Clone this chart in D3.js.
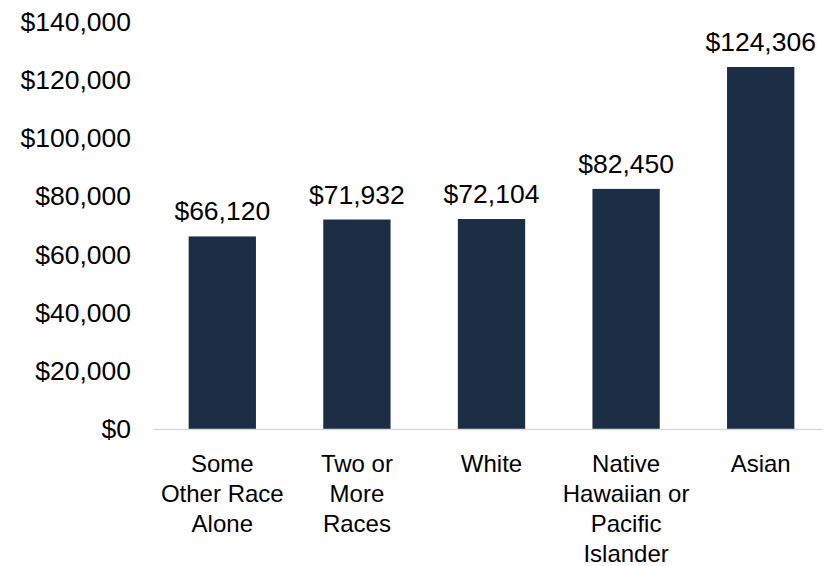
<!DOCTYPE html>
<html><head><meta charset="utf-8">
<script src="https://cdn.jsdelivr.net/npm/d3@7"></script>
<style>body{margin:0;background:#fff}svg{display:block}text{font-family:"Liberation Sans",Arial,sans-serif;fill:#000}</style>
</head><body>
<svg id="c" width="825" height="566"></svg>
<script>
const categories = ["Some Other Race Alone","Two or More Races","White","Native Hawaiian or Pacific Islander","Asian"];
const categoryLines = [["Some","Other Race","Alone"],["Two or","More","Races"],["White"],["Native","Hawaiian or","Pacific","Islander"],["Asian"]];
const values = [66120,71932,72104,82450,124306];
const yTicks = [0,20000,40000,60000,80000,100000,120000,140000];

const svg = d3.select("#c");
const x = d3.scaleBand().domain(categories).range([155,828]).paddingInner(0.5).paddingOuter(0.25);
const y = d3.scaleLinear().domain([0,140000]).range([429,21.3]);
const fmt = v => "$" + d3.format(",")(v);
const fs = 26.5;

// y labels
svg.append("g").selectAll("text").data(yTicks).join("text")
  .attr("x",131).attr("y",d=>y(d)).attr("dy","0.35em")
  .attr("text-anchor","end").style("font-size",fs+"px").text(fmt);

// bars
svg.append("g").selectAll("rect").data(values).join("rect")
  .attr("x",(d,i)=>x(categories[i])).attr("width",x.bandwidth())
  .attr("y",d=>y(d)).attr("height",d=>y(0)-y(d)).attr("fill","#1b2e46");

// axis line
svg.append("line").attr("x1",154).attr("x2",822).attr("y1",y(0)+0.5).attr("y2",y(0)+0.5)
  .attr("stroke","#d9d9d9").attr("stroke-width",1.5);

// value labels
svg.append("g").selectAll("text").data(values).join("text")
  .attr("x",(d,i)=>x(categories[i])+x.bandwidth()/2).attr("y",d=>y(d)-16)
  .attr("text-anchor","middle").style("font-size",fs+"px").text(fmt);

// category labels
const cl = svg.append("g").selectAll("text").data(categories).join("text")
  .attr("x",d=>x(d)+x.bandwidth()/2).attr("y",472)
  .attr("text-anchor","middle").style("font-size","24px");
cl.each(function(d,i){
  d3.select(this).selectAll("tspan").data(categoryLines[i]).join("tspan")
    .attr("x",x(d)+x.bandwidth()/2).attr("dy",(t,j)=>j===0?0:30).text(t=>t);
});
</script>
</body></html>
